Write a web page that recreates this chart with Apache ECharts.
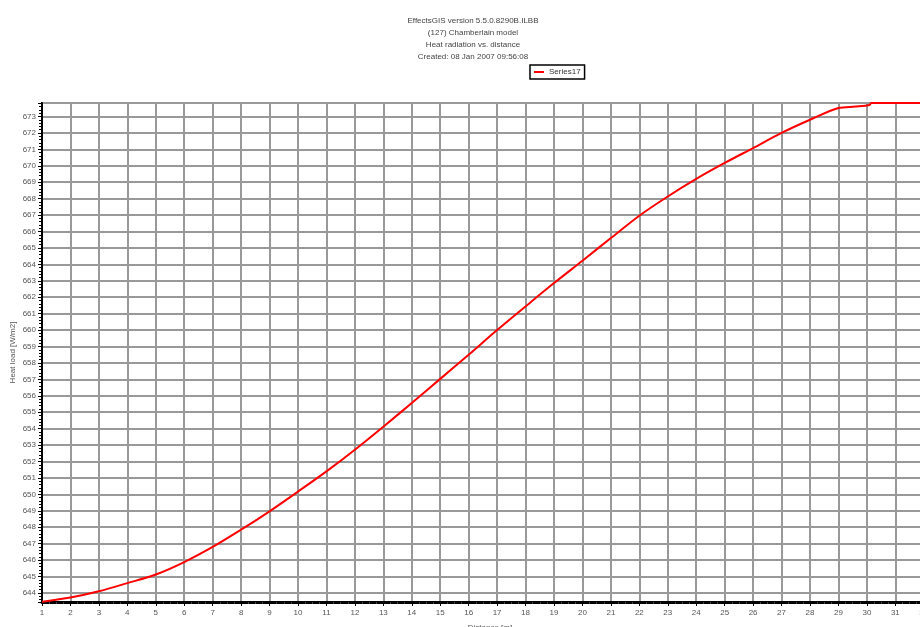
<!DOCTYPE html>
<html>
<head>
<meta charset="utf-8">
<script src="https://cdn.jsdelivr.net/npm/echarts@6/dist/echarts.min.js"></script>
<style>
  html, body { margin: 0; padding: 0; background: #fff; }
  #chart { width: 920px; height: 627px; }
</style>
</head>
<body>
<div id="chart"></div>
<script>
// distance [m] and heat load [W/m2]
const distance = [1, 2, 3, 4, 5, 6, 7, 8, 9, 10, 11, 12, 13, 14, 15, 16, 17, 18, 19, 20,
  21, 22, 23, 24, 25, 26, 27, 28, 29, 29.6, 30.1, 30.15, 32.5];
const heatLoad = [643.47, 643.72, 644.1, 644.6, 645.12, 645.88, 646.8, 647.85, 648.97, 650.17,
  651.4, 652.72, 654.12, 655.56, 657.03, 658.5, 660.0, 661.44, 662.86, 664.22,
  665.6, 666.96, 668.13, 669.2, 670.17, 671.08, 672.0, 672.8, 673.52, 673.6, 673.7, 673.82, 673.82];
const titleLines = [
  "EffectsGIS version 5.5.0.8290B.ILBB",
  "(127) Chamberlain model",
  "Heat radiation vs. distance",
  "Created: 08 Jan 2007 09:56:08"
];
const seriesName = "Series17";

const chart = echarts.init(document.getElementById("chart"));
const font = "Liberation Sans, Arial, sans-serif";
const seriesData = [];
for (let i = 0; i < distance.length; i++) {
  seriesData.push([distance[i], heatLoad[i]]);
}

const option = {
  animation: false,
  backgroundColor: "#fff",
  title: {
    text: titleLines.join("\n"),
    left: 468,
    top: 10,
    textAlign: "center",
    textStyle: { fontFamily: font, fontSize: 8, fontWeight: "normal", color: "#444", lineHeight: 12 }
  },
  legend: {
    data: [seriesName],
    left: 530,
    top: 65,
    padding: [3, 4, 3, 4],
    borderColor: "#000",
    borderWidth: 1.5,
    itemWidth: 10,
    itemHeight: 2,
    icon: "rect",
    textStyle: { fontFamily: font, fontSize: 8, color: "#333" }
  },
  grid: {
    left: 42,
    top: 103,
    width: 896,
    height: 499,
    show: true,
    borderColor: "#000",
    borderWidth: 2,
    containLabel: false,
    outerBoundsMode: "none"
  },
  xAxis: {
    type: "value",
    min: 1,
    max: 32.5,
    interval: 1,
    name: "Distance [m]",
    nameLocation: "middle",
    nameGap: 22,
    nameMoveOverlap: false,
    nameTextStyle: { fontFamily: font, fontSize: 8, color: "#555" },
    axisLine: { lineStyle: { color: "#000", width: 3 } },
    axisTick: { show: true, length: 4, lineStyle: { color: "#000", width: 1 } },
    minorTick: { show: true, splitNumber: 4, length: 2, lineStyle: { color: "#444", width: 1 } },
    axisLabel: { fontFamily: font, fontSize: 8, color: "#555", margin: 7, showMaxLabel: false },
    splitLine: { show: true, lineStyle: { color: "#999", width: 2 } }
  },
  yAxis: {
    type: "value",
    min: 643.45,
    max: 673.82,
    splitNumber: 30,
    name: "Heat load [W/m2]",
    nameLocation: "middle",
    nameGap: 25,
    nameMoveOverlap: false,
    nameTextStyle: { fontFamily: font, fontSize: 8, color: "#555" },
    axisLine: { show: true, lineStyle: { color: "#000", width: 2 } },
    axisTick: { show: true, length: 4, lineStyle: { color: "#000", width: 1 } },
    minorTick: { show: true, splitNumber: 5, length: 3, lineStyle: { color: "#000", width: 1 } },
    axisLabel: { fontFamily: font, fontSize: 8, color: "#555", margin: 6, showMinLabel: false, showMaxLabel: false },
    splitLine: { show: true, lineStyle: { color: "#999", width: 2 } }
  },
  series: [{
    name: seriesName,
    type: "line",
    data: seriesData,
    smooth: 0.3,
    showSymbol: false,
    symbol: "none",
    clip: false,
    lineStyle: { color: "#ff0000", width: 2 },
    itemStyle: { color: "#ff0000" }
  }]
};

chart.setOption(option);
</script>
</body>
</html>
